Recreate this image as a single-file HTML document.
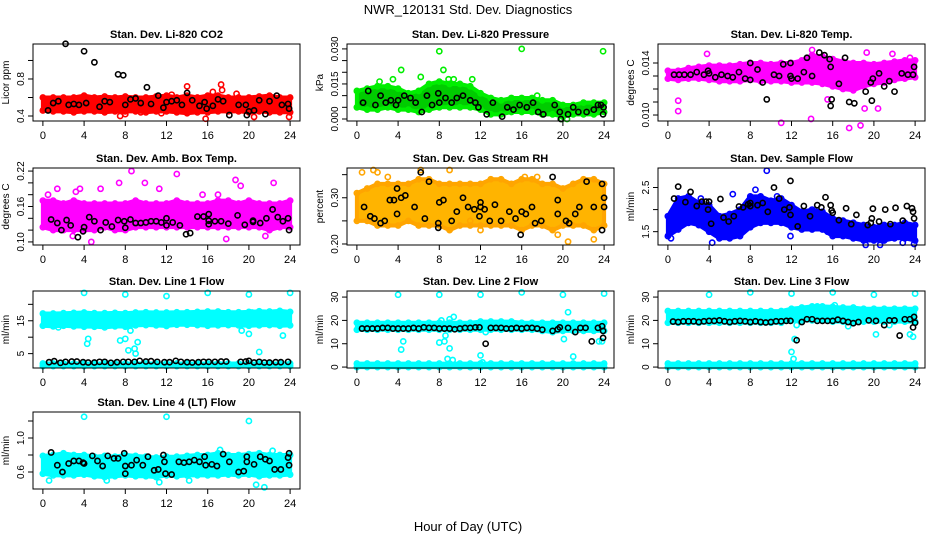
<!DOCTYPE html>
<html><head><meta charset="utf-8"><style>
body{margin:0;background:#fff;}
svg{display:block;font-family:"Liberation Sans",sans-serif;}
</style></head><body>
<svg id="chart" width="936" height="540" viewBox="0 0 936 540">
<rect width="936" height="540" fill="#fff"/>
<text x="468" y="14" text-anchor="middle" font-size="13">NWR_120131  Std. Dev. Diagnostics</text>
<text x="468" y="531" text-anchor="middle" font-size="13">Hour of Day (UTC)</text>
</svg>
<script>
const xTicks=[0,4,8,12,16,20,24];
// ---- CO2 ----
const co2Hi=[0.6,0.6,0.6,0.6,0.62,0.6,0.61,0.6,0.61,0.6,0.6,0.61,0.62,0.6,0.62,0.6,0.62,0.62,0.6,0.6,0.6,0.61,0.62,0.6,0.6];
const co2Lo=[0.46,0.45,0.45,0.44,0.45,0.45,0.44,0.45,0.45,0.45,0.44,0.45,0.45,0.44,0.43,0.44,0.44,0.45,0.45,0.45,0.44,0.45,0.44,0.44,0.44];
const co2Out=[[7.5,0.4],[8,0.42],[12.5,0.63],[14,0.72],[15.8,0.37],[16.5,0.66],[17.3,0.74],[17.4,0.68],[18.8,0.64],[20.5,0.39],[23.9,0.39],[11.5,0.43],[9.5,0.44]];
const co2Blk=[[0.5,0.46],[1,0.54],[1.5,0.56],[2.2,1.18],[2.5,0.52],[3,0.53],[3.5,0.52],[4,1.1],[4.2,0.54],[5,0.98],[5.5,0.5],[6,0.56],[6.5,0.55],[7.3,0.85],[7.8,0.84],[8,0.52],[8.5,0.58],[9,0.59],[9.5,0.54],[10.1,0.71],[10.5,0.53],[11.2,0.62],[11.7,0.49],[12,0.55],[12.5,0.56],[13,0.57],[13.5,0.52],[14,0.65],[14.5,0.57],[15.2,0.51],[15.7,0.55],[15.9,0.48],[16.5,0.51],[17,0.58],[17.5,0.56],[18.1,0.41],[19,0.52],[19.7,0.52],[19.8,0.41],[20,0.45],[20.5,0.46],[21,0.57],[21.6,0.42],[22,0.56],[22.7,0.62],[23.2,0.52],[23.8,0.53],[23.9,0.48]];
// ---- Pressure ----
const presHi=[0.012,0.013,0.014,0.014,0.013,0.011,0.012,0.015,0.016,0.015,0.015,0.014,0.011,0.009,0.008,0.009,0.009,0.009,0.008,0.008,0.006,0.006,0.007,0.007,0.007];
const presLo=[0.005,0.004,0.004,0.005,0.004,0.004,0.003,0.004,0.005,0.005,0.005,0.005,0.004,0.002,0.002,0.003,0.003,0.003,0.002,0.002,0.001,0.002,0.002,0.002,0.003];
const presOut=[[4.3,0.021],[6.2,0.018],[8,0.029],[8.4,0.021],[8.9,0.017],[9.4,0.017],[11.2,0.017],[16,0.030],[23.9,0.029],[2.2,0.016],[3.5,0.017],[17.5,0.01],[19.9,0.0],[20.4,0.0]];
const presBlk=[[0.6,0.007],[1.1,0.012],[1.8,0.006],[2.3,0.01],[2.8,0.007],[3.3,0.008],[3.8,0.006],[4,0.008],[4.6,0.01],[5.2,0.009],[5.7,0.007],[6.3,0.003],[6.8,0.01],[7.3,0.006],[7.9,0.011],[8,0.007],[8.6,0.009],[9.2,0.007],[9.7,0.009],[10.3,0.01],[11,0.008],[11.5,0.007],[11.8,0.005],[12.6,0.002],[13.2,0.007],[14.1,0.001],[14.6,0.005],[15.2,0.004],[15.8,0.006],[16.5,0.005],[17.1,0.007],[17.6,0.003],[18.1,0.002],[19.2,0.006],[19.7,0.003],[19.8,0.0],[20.5,0.002],[21,0.005],[21.5,0.003],[22.3,0.003],[23,0.004],[23.4,0.006],[23.7,0.006],[23.9,0.002],[23.95,0.005]];
// ---- Li-820 Temp ----
const ltHi=[0.0134,0.0134,0.0136,0.0137,0.0138,0.0138,0.0138,0.0139,0.0140,0.0140,0.0139,0.0140,0.0140,0.0142,0.0146,0.0145,0.0143,0.0141,0.0140,0.0140,0.0139,0.0140,0.0141,0.0142,0.0142];
const ltLo=[0.0128,0.0127,0.0128,0.0128,0.0127,0.0126,0.0126,0.0126,0.0127,0.0126,0.0126,0.0126,0.0125,0.0125,0.0125,0.0124,0.0122,0.0120,0.0119,0.0122,0.0124,0.0125,0.0127,0.0128,0.0129];
const ltOut=[[1,0.0111],[1,0.0103],[3.8,0.0147],[11,0.0094],[14,0.0150],[13.9,0.0097],[17.6,0.0090],[18.7,0.0092],[19.3,0.0148],[21.8,0.0147],[23.5,0.0144],[15.5,0.0112],[19.1,0.0105],[20.4,0.0105]];
const ltBlk=[[0.6,0.0131],[1.1,0.0131],[1.6,0.0131],[2.2,0.0131],[2.8,0.0133],[3.5,0.0131],[3.9,0.0134],[4,0.0132],[4.6,0.0129],[5.2,0.0131],[5.8,0.0130],[6.3,0.0129],[6.9,0.0133],[7.5,0.0128],[8,0.0140],[8,0.0127],[8.7,0.0135],[9.2,0.0125],[9.6,0.0112],[10.3,0.0131],[10.8,0.0130],[11.2,0.0139],[11.9,0.0140],[11.9,0.0130],[12,0.0128],[12.6,0.0128],[13.2,0.0133],[13.5,0.0144],[14,0.0130],[14.7,0.0148],[15.2,0.0146],[15.7,0.0143],[15.8,0.0137],[15.8,0.0107],[15.9,0.0112],[16.6,0.0124],[17.2,0.0144],[17.6,0.0110],[18.1,0.0109],[19.2,0.0118],[19.8,0.0111],[19.7,0.0125],[19.9,0.0128],[20.5,0.0132],[21,0.0122],[21.5,0.0126],[22,0.0118],[22.7,0.0132],[23.3,0.0131],[23.8,0.0131],[23.9,0.0137]];
// ---- Amb Box Temp ----
const abHi=[0.17,0.17,0.165,0.17,0.165,0.165,0.165,0.165,0.165,0.17,0.165,0.165,0.165,0.17,0.165,0.165,0.165,0.17,0.17,0.165,0.17,0.165,0.165,0.165,0.17];
const abLo=[0.125,0.12,0.12,0.12,0.12,0.12,0.125,0.12,0.12,0.125,0.125,0.125,0.125,0.125,0.125,0.125,0.125,0.125,0.125,0.125,0.125,0.125,0.12,0.125,0.125];
const abOut=[[1.4,0.19],[2.9,0.11],[3.6,0.19],[4.7,0.10],[7.4,0.20],[8.6,0.22],[9.9,0.20],[13,0.215],[15.5,0.18],[17,0.18],[17.8,0.105],[18.7,0.205],[19.2,0.195],[22.4,0.20],[0.5,0.18],[5.6,0.19],[11.3,0.19],[3.2,0.185],[21.6,0.11]];
const abBlk=[[0.8,0.138],[1.4,0.132],[1.8,0.12],[2.3,0.137],[2.7,0.128],[3.4,0.108],[3.9,0.118],[4,0.125],[4.5,0.142],[5,0.135],[5.6,0.12],[6.1,0.133],[6.7,0.126],[7.3,0.137],[7.9,0.135],[8,0.124],[8.5,0.138],[9,0.132],[9.5,0.132],[10,0.133],[10.5,0.135],[11,0.135],[11.5,0.133],[12,0.128],[12,0.14],[12.6,0.133],[13.3,0.128],[13.9,0.113],[14.3,0.115],[15,0.143],[15.6,0.143],[16.1,0.147],[16.1,0.136],[16.1,0.13],[16.7,0.135],[17.3,0.135],[18,0.131],[18.9,0.145],[19.6,0.129],[20.4,0.136],[20.4,0.134],[21.1,0.132],[21.7,0.14],[22.3,0.155],[22.8,0.142],[23.3,0.135],[23.8,0.14],[23.9,0.12]];
// ---- Gas Stream RH ----
const rhHi=[0.31,0.32,0.33,0.33,0.33,0.33,0.34,0.34,0.33,0.33,0.33,0.33,0.33,0.34,0.34,0.33,0.34,0.34,0.33,0.33,0.32,0.33,0.34,0.34,0.33];
const rhLo=[0.25,0.25,0.24,0.24,0.24,0.25,0.24,0.24,0.24,0.23,0.24,0.24,0.24,0.24,0.24,0.24,0.23,0.24,0.24,0.23,0.24,0.24,0.24,0.23,0.24];
const rhOut=[[0.5,0.355],[1.6,0.36],[2,0.355],[3,0.345],[6.2,0.36],[9,0.36],[11,0.25],[12,0.23],[17.5,0.345],[19.5,0.22],[20.5,0.205],[23,0.21],[16.3,0.345]];
const rhBlk=[[0.7,0.28],[1.3,0.26],[1.7,0.255],[2.3,0.245],[2.7,0.25],[3.2,0.295],[3.6,0.295],[3.9,0.265],[3.9,0.32],[4.3,0.3],[4.7,0.305],[5.6,0.28],[6.2,0.355],[6.6,0.255],[7,0.335],[7.9,0.245],[7.9,0.235],[8,0.29],[8.4,0.295],[9.2,0.25],[9.7,0.27],[10.3,0.3],[10.8,0.28],[11.4,0.275],[11.9,0.26],[12,0.28],[12,0.29],[12.4,0.275],[12.9,0.25],[13.4,0.285],[14,0.25],[14.8,0.27],[15.4,0.255],[15.9,0.22],[16,0.27],[16.4,0.265],[17,0.28],[17.3,0.245],[17.9,0.25],[19,0.345],[19.5,0.295],[19.5,0.265],[20.3,0.25],[20.6,0.245],[21.2,0.265],[21.6,0.28],[22.3,0.335],[23,0.28],[23.8,0.33],[23.8,0.23],[24,0.3],[24,0.28]];
// ---- Sample Flow ----
const sfHi=[1.85,2.25,2.3,2.15,2.1,1.85,1.9,2.0,2.3,2.3,2.2,2.25,2.1,1.95,2.0,1.95,1.8,1.75,1.7,1.65,1.6,1.65,1.65,1.7,1.65];
const sfLo=[1.4,1.55,1.7,1.65,1.5,1.35,1.35,1.4,1.6,1.7,1.7,1.7,1.6,1.55,1.55,1.55,1.4,1.4,1.35,1.3,1.3,1.3,1.35,1.35,1.3];
const sfOut=[[0.3,1.35],[4.3,1.25],[6.3,2.35],[8.5,2.45],[9.6,2.88],[11.9,1.4],[15.5,1.5],[19.2,1.2],[20.6,1.2],[22.8,1.25],[23.9,1.22],[10.6,2.3],[3.2,2.25]];
const sfBlk=[[0.6,2.25],[1,2.52],[1.7,2.17],[2.2,2.4],[2.8,2.08],[3.3,2.18],[3.7,2.18],[3.9,2.0],[4,2.18],[4.2,1.68],[5.1,2.24],[5.4,1.82],[5.9,1.73],[6.4,1.85],[6.9,2.07],[7.3,2.05],[7.8,2.12],[8,2.15],[8,2.08],[8.7,2.1],[9.2,2.15],[9.7,1.95],[10.3,2.5],[10.8,2.25],[11.3,2.0],[11.8,2.05],[11.9,2.65],[11.9,1.88],[12.6,1.62],[13.2,2.08],[13.8,1.85],[14.5,2.1],[14.9,2.05],[15.3,2.28],[15.8,2.1],[15.9,1.98],[16,1.93],[16.6,1.76],[17.3,2.03],[17.8,1.67],[18.3,1.88],[19.4,1.65],[19.7,1.7],[19.8,1.8],[19.9,2.02],[20.5,1.73],[21.1,2.0],[21.6,1.67],[22.1,2.04],[22.8,1.75],[23.2,2.08],[23.7,2.03],[23.8,1.95],[23.9,1.8]];
// ---- Line 1 ----
const l1Hi=[17.2,17.2,17.3,17.4,17.5,17.3,17.3,17.4,17.3,17.5,17.6,17.5,17.5,17.6,17.6,17.7,17.8,17.8,17.6,17.6,17.7,17.9,17.8,18.0,17.7];
const l1Lo=[13.5,13.3,13.5,13.3,13.2,13.2,13.0,13.3,13.2,13.6,13.7,13.6,13.4,13.8,13.8,13.7,13.5,13.6,13.7,13.6,13.5,13.6,13.7,13.5,13.6];
const l1BotHi=[2.0,2.0,2.0,2.0,2.0,2.0,2.0,2.0,2.0,2.0,2.0,2.0,2.0,2.0,2.0,2.0,2.0,2.0,2.0,2.0,2.0,2.0,2.0,2.0,2.0];
const l1BotLo=[1.2,1.2,1.2,1.2,1.2,1.2,1.2,1.2,1.2,1.2,1.2,1.2,1.2,1.2,1.2,1.2,1.2,1.2,1.2,1.2,1.2,1.2,1.2,1.2,1.2];
const l1Out=[[4,23.5],[8,23],[12,22.5],[16,23.5],[20,23],[24,23.5],[4.3,8],[4.4,9.5],[7.5,9],[8,9.5],[8.3,6],[8.5,12],[8.7,14.5],[8.9,6.5],[9,5],[9.2,8.5],[19.3,12],[20,11],[21,5.5],[23.3,10.5],[20.3,17.5],[8,13.5],[1.5,13]];
const l1Blk=[[0.6,2.4],[1.1,2.7],[1.7,2.2],[2.2,2.5],[2.8,2.6],[3.3,2.6],[3.9,2.4],[4.4,2.3],[5,2.3],[5.5,2.5],[6,2.5],[6.6,2.2],[7.2,2.4],[7.8,2.5],[8.3,2.5],[8.9,2.5],[9.4,2.8],[10,2.6],[10.5,2.7],[11.1,2.5],[11.8,2.4],[12.3,2.4],[12.9,2.8],[13.4,2.5],[14,2.4],[14.5,2.3],[15.1,2.4],[15.6,2.5],[16.1,2.5],[16.7,2.5],[17.3,2.6],[17.8,2.6],[19.2,2.5],[19.7,2.6],[20,2.8],[20.5,2.3],[21,2.5],[21.5,2.3],[22,2.3],[22.6,2.4],[23.1,2.4],[23.8,2.5]];
// ---- Line 2 ----
const l2Hi=[19,19,19,19,19,19,19,19,19,19,19,19,19.5,19.5,19.5,19.5,19,19,19,19,19,19,19,19,19];
const l2Lo=[16,16,16,16,16,16,16,16,16,16,16,16,16,16,16,16,16,16,15.5,15,15.5,15.5,15.5,15.5,15.5];
const l2BotHi=[1.5,1.5,1.5,1.5,1.5,1.5,1.5,1.5,1.5,1.5,1.5,1.5,1.5,1.5,1.5,1.5,1.5,1.5,1.5,1.5,1.5,1.5,1.5,1.5,1.5];
const l2BotLo=[0,0,0,0,0,0,0,0,0,0,0,0,0,0,0,0,0,0,0,0,0,0,0,0,0];
const l2Out=[[4,31],[8,31],[12,31],[16,32],[20,31],[24,31.5],[4.3,7.5],[4.5,11],[8.2,20],[8,10.5],[8.5,11],[8.6,13.5],[8.8,3.5],[9,8],[9.3,3],[9.4,21.5],[9,20.5],[12,5],[12.2,2],[12.5,15],[20.1,12],[20.5,23.5],[21,4.5],[23.5,11],[23.8,11]];
const l2Blk=[[0.5,16.5],[1,16.5],[1.5,16.5],[2,16.5],[2.5,16.8],[3,16.8],[3.5,16.5],[4,16.5],[4.5,16.5],[5,16.5],[5.5,16.8],[6,16.5],[6.5,17],[7,16.8],[7.5,16.8],[8,16.5],[8.5,16.5],[9,16.5],[9.5,16.2],[10,16.5],[10.5,16.8],[11,16.8],[11.5,17],[11.9,17],[12.5,10],[13,16.8],[13.5,16.8],[14,16.8],[14.5,16.5],[15,16.5],[15.5,16.8],[16,16.5],[16.5,16.8],[17,16.8],[17.5,16.5],[18,16],[19,15.5],[19.5,16.2],[19.7,17],[20.5,16.8],[21.2,15],[21.7,16.8],[22.2,16.8],[22.8,11],[23.4,16.8],[23.8,17.5],[23.9,12.5],[23.9,15.5]];
// ---- Line 3 ----
const l3Hi=[24,24,24,24,24,24,24,24,24,24,24,24,25,25.5,26,26,25.8,25.5,25.5,25,25,25,25,25,25];
const l3Lo=[19,19,19,19,19,19,19,19,19,19,19,19,20,20,20,20,19.5,19.5,19.5,19.5,19.5,19.5,19.5,19.5,19.5];
const l3BotHi=[1.5,1.5,1.5,1.5,1.5,1.5,1.5,1.5,1.5,1.5,1.5,1.5,1.5,1.5,1.5,1.5,1.5,1.5,1.5,1.5,1.5,1.5,1.5,1.5,1.5];
const l3BotLo=[0,0,0,0,0,0,0,0,0,0,0,0,0,0,0,0,0,0,0,0,0,0,0,0,0];
const l3Out=[[4,31],[8,32],[12,31.5],[16,32],[20,31],[24,31.5],[12,6.5],[12.2,3.5],[12.3,12],[12.5,18],[20.2,14],[17.5,17.5],[21.5,18],[23.5,14],[23.8,13],[16.2,26.5],[14.5,26]];
const l3Blk=[[0.5,19.5],[1,19.3],[1.5,19.6],[2,19.6],[2.5,19.6],[3,19.3],[3.5,19.6],[4,19.8],[4.5,19.8],[5,20],[5.5,19.6],[6,19.3],[6.5,19.6],[7,19.8],[7.5,19.6],[8,19.3],[8.5,19.6],[9,19.3],[9.5,19.1],[10,19.3],[10.5,19.6],[11,19.6],[11.5,19.8],[11.9,19.8],[12.5,11.5],[13,19.3],[13.5,20.5],[14,20.5],[14.5,19.8],[15,19.8],[15.5,19.8],[16,19.8],[16.5,20.3],[17,19.8],[17.5,19.3],[18,18.8],[18.5,19.3],[19.5,20],[20.2,19.8],[21,18],[21.5,20],[22,20],[22.5,13.5],[23,20.5],[23.5,20.5],[23.9,21.5],[23.8,17],[24,19]];
// ---- Line 4 ----
const l4Hi=[0.79,0.8,0.82,0.8,0.8,0.78,0.79,0.78,0.8,0.79,0.78,0.77,0.78,0.78,0.79,0.8,0.8,0.82,0.8,0.8,0.81,0.82,0.8,0.8,0.8];
const l4Lo=[0.58,0.56,0.56,0.56,0.57,0.55,0.54,0.55,0.56,0.55,0.55,0.54,0.56,0.55,0.56,0.56,0.56,0.56,0.57,0.56,0.57,0.55,0.56,0.56,0.57];
const l4Out=[[4,1.25],[12,1.25],[20,1.2],[20.7,0.45],[21.5,0.42],[11.3,0.48],[0.6,0.5],[14.2,0.5],[17.2,0.86],[22.3,0.85],[6.2,0.5]];
const l4Blk=[[0.8,0.83],[1.4,0.68],[1.9,0.6],[2.5,0.7],[3,0.73],[3.5,0.73],[3.9,0.71],[4,0.7],[4.8,0.79],[5.3,0.73],[5.8,0.67],[6.3,0.79],[6.9,0.76],[7.3,0.76],[7.9,0.82],[8,0.58],[8,0.67],[8.6,0.68],[9.1,0.74],[9.7,0.68],[10.2,0.78],[10.8,0.62],[11.2,0.63],[11.7,0.8],[11.8,0.72],[11.9,0.58],[12.5,0.57],[13.2,0.72],[13.7,0.71],[14.2,0.72],[14.7,0.74],[15.2,0.72],[15.7,0.78],[15.8,0.68],[16.4,0.69],[16.9,0.67],[17.5,0.81],[18.1,0.72],[19,0.6],[19.5,0.61],[19.8,0.78],[19.8,0.72],[20.5,0.69],[21.1,0.78],[21.6,0.75],[22,0.73],[22.5,0.63],[23.1,0.63],[23.8,0.77],[23.9,0.82],[23.9,0.68]];

const panels=[
 {name:'co2',title:'Stan. Dev. Li-820 CO2',ylab:'Licor ppm',col:0,row:0,ylim:[0.346,1.178],yTicks:[0.4,0.6,0.8,1.0],yLabels:['0.4','','0.8',''],color:'#ff0000',fill:'#ff0000',bands:[[co2Hi,co2Lo]],out:co2Out,blk:co2Blk},
 {name:'pressure',title:'Stan. Dev. Li-820 Pressure',ylab:'kPa',col:1,row:0,ylim:[-0.00086,0.0321],yTicks:[0,0.005,0.01,0.015,0.02,0.025,0.03],yLabels:['0.000','','','0.015','','','0.030'],color:'#00ee00',fill:'#00cc00',bands:[[presHi,presLo]],out:presOut,blk:presBlk},
 {name:'li820-temp',title:'Stan. Dev. Li-820 Temp.',ylab:'degrees C',col:2,row:0,ylim:[0.00954,0.01546],yTicks:[0.010,0.011,0.012,0.013,0.014],yLabels:['0.010','','','','0.014'],color:'#ff00ff',fill:'#ff00ff',bands:[[ltHi,ltLo]],out:ltOut,blk:ltBlk},
 {name:'amb-box-temp',title:'Stan. Dev. Amb. Box Temp.',ylab:'degrees C',col:0,row:1,ylim:[0.0948,0.2252],yTicks:[0.10,0.12,0.14,0.16,0.18,0.20,0.22],yLabels:['0.10','','','0.16','','','0.22'],color:'#ff00ff',fill:'#ff00ff',bands:[[abHi,abLo]],out:abOut,blk:abBlk},
 {name:'gas-stream-rh',title:'Stan. Dev. Gas Stream RH',ylab:'percent',col:1,row:1,ylim:[0.1978,0.3644],yTicks:[0.20,0.25,0.30,0.35],yLabels:['0.20','','0.30',''],color:'#ffa500',fill:'#ffb400',bands:[[rhHi,rhLo]],out:rhOut,blk:rhBlk},
 {name:'sample-flow',title:'Stan. Dev. Sample Flow',ylab:'ml/min',col:2,row:1,ylim:[1.198,2.942],yTicks:[1.5,2.0,2.5],yLabels:['1.5','','2.5'],color:'#0000ff',fill:'#0000ff',bands:[[sfHi,sfLo]],out:sfOut,blk:sfBlk},
 {name:'line1-flow',title:'Stan. Dev. Line 1 Flow',ylab:'ml/min',col:0,row:2,ylim:[0.625,24.06],yTicks:[5,10,15,20],yLabels:['5','','15',''],color:'#00ffff',fill:'#00ffff',bands:[[l1Hi,l1Lo],[l1BotHi,l1BotLo]],out:l1Out,blk:l1Blk},
 {name:'line2-flow',title:'Stan. Dev. Line 2 Flow',ylab:'ml/min',col:1,row:2,ylim:[-0.4,32.6],yTicks:[0,10,20,30],yLabels:['0','10','20','30'],color:'#00ffff',fill:'#00ffff',bands:[[l2Hi,l2Lo],[l2BotHi,l2BotLo]],out:l2Out,blk:l2Blk},
 {name:'line3-flow',title:'Stan. Dev. Line 3 Flow',ylab:'ml/min',col:2,row:2,ylim:[-0.4,32.6],yTicks:[0,10,20,30],yLabels:['0','10','20','30'],color:'#00ffff',fill:'#00ffff',bands:[[l3Hi,l3Lo],[l3BotHi,l3BotLo]],out:l3Out,blk:l3Blk},
 {name:'line4-flow',title:'Stan. Dev. Line 4 (LT) Flow',ylab:'ml/min',col:0,row:3,ylim:[0.4,1.306],yTicks:[0.6,0.8,1.0,1.2],yLabels:['0.6','','1.0',''],color:'#00ffff',fill:'#00ffff',bands:[[l4Hi,l4Lo]],out:l4Out,blk:l4Blk}
];
const colX=[33,347,658], colW=267;
const rowY=[44,168,291,412], rowH=77;
const NS='http://www.w3.org/2000/svg';
const svg=document.getElementById('chart');
function mk(tag,attrs,parent){const e=document.createElementNS(NS,tag);for(const k in attrs)e.setAttribute(k,attrs[k]);parent.appendChild(e);return e;}

panels.forEach(p=>{
  const L=colX[p.col], T=rowY[p.row], W=colW, H=rowH;
  const xs=h=>L+W*(h+0.96)/25.92;
  const ys=v=>T+H-H*(v-p.ylim[0])/(p.ylim[1]-p.ylim[0]);
  const g=mk('g',{},svg);
  
  
  const t=mk('text',{x:L+W/2,y:T-6,'text-anchor':'middle','font-size':'11','font-weight':'bold'},g);
  t.textContent=p.title;
  
  
  const clip=mk('g',{},g);
  
  
  p.bands.forEach(b=>{
    const hi=b[0],lo=b[1];
    let pts=[];
    hi.forEach((v,i)=>pts.push(xs(i)+','+ys(v)));
    for(let i=lo.length-1;i>=0;i--)pts.push(xs(i)+','+ys(lo[i]));
    const poly=mk('polygon',{points:pts.join(' '),fill:p.fill,stroke:p.color,'stroke-width':'4','stroke-linejoin':'round'},clip);
    
    
    hi.concat(lo).forEach((v,i)=>{
      const c=mk('circle',{cx:xs(i%hi.length),cy:ys(v),r:2.6,fill:'none',stroke:p.color,'stroke-width':'1.6'},clip);
      
      
    });
  });
  p.out.forEach(d=>{
    const c=mk('circle',{cx:xs(d[0]),cy:ys(d[1]),r:2.6,fill:'none',stroke:p.color,'stroke-width':'1.6'},clip);
    
    
  });
  p.blk.forEach(d=>{
    const c=mk('circle',{cx:xs(d[0]),cy:ys(d[1]),r:2.6,fill:'none',stroke:'#000','stroke-width':'1.6'},clip);
    
    
  });
  const box=mk('rect',{x:L,y:T,width:W,height:H,fill:'none',stroke:'#000','stroke-width':'1'},g);
  
  
  const xa=mk('g',{},g);
  
  
  mk('line',{x1:xs(0),x2:xs(24),y1:T+H,y2:T+H,stroke:'#000'},xa);
  xTicks.forEach(h=>{
    mk('line',{x1:xs(h),x2:xs(h),y1:T+H,y2:T+H+5,stroke:'#000'},xa);
    const tl=mk('text',{x:xs(h),y:T+H+18,'text-anchor':'middle','font-size':'11'},xa);
    tl.textContent=h;
    
    
  });
  const ya=mk('g',{},g);
  
  
  mk('line',{x1:L,x2:L,y1:ys(p.yTicks[0]),y2:ys(p.yTicks[p.yTicks.length-1]),stroke:'#000'},ya);
  p.yTicks.forEach((v,i)=>{
    const y=ys(v);
    mk('line',{x1:L-5,x2:L,y1:y,y2:y,stroke:'#000'},ya);
    if(p.yLabels[i]){
      const tl=mk('text',{x:L-9,y:y,'text-anchor':'middle','font-size':'10',transform:'rotate(-90 '+(L-9)+' '+y+')'},ya);
      tl.textContent=p.yLabels[i];
      
      
    }
  });
  const yl=mk('text',{x:L-24,y:T+H/2,'text-anchor':'middle','font-size':'10',transform:'rotate(-90 '+(L-24)+' '+(T+H/2)+')'},ya);
  yl.textContent=p.ylab;
  
  
});
</script>
</body></html>
